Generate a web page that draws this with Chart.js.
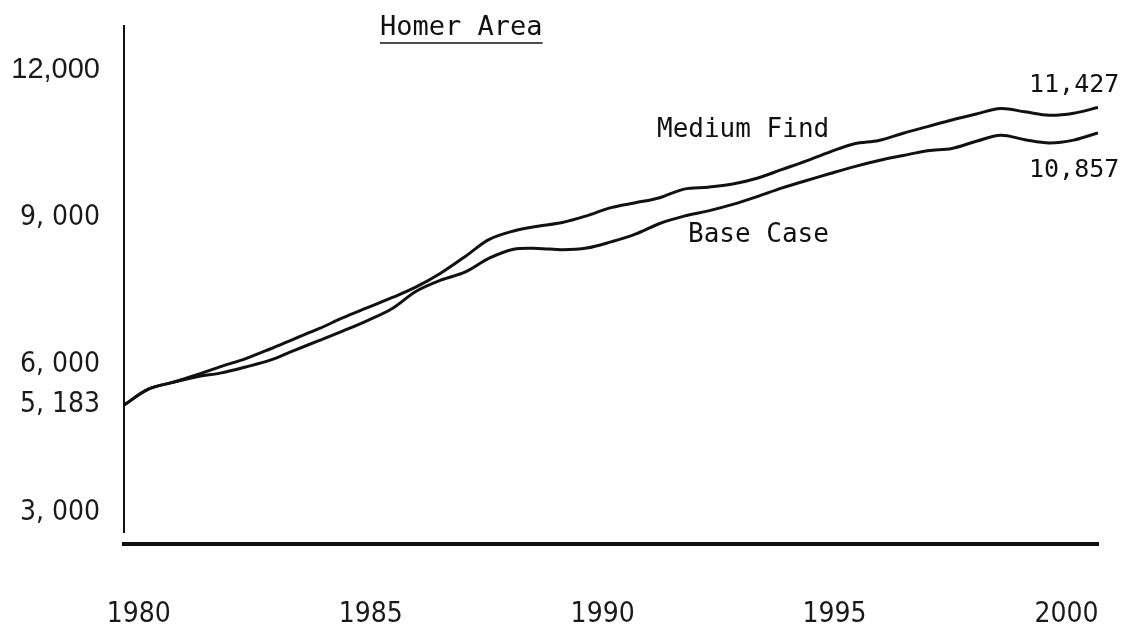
<!DOCTYPE html>
<html>
<head>
<meta charset="utf-8">
<script src="https://cdn.jsdelivr.net/npm/chart.js@4.4.1/dist/chart.umd.min.js"></script>
<style>
  html, body { margin: 0; padding: 0; background: #fff; }
  #wrap { width: 1128px; height: 625px; position: relative; }
</style>
</head>
<body>
<div id="wrap"><canvas id="homerChart"></canvas></div>
<script>
// ===== HOMER AREA CHART =====

// half-year steps, 1980 .. 2000
const years = [
  1980, 1980.5, 1981, 1981.5, 1982, 1982.5, 1983, 1983.5, 1984, 1984.5,
  1985, 1985.5, 1986, 1986.5, 1987, 1987.5, 1988, 1988.5, 1989, 1989.5,
  1990, 1990.5, 1991, 1991.5, 1992, 1992.5, 1993, 1993.5, 1994, 1994.5,
  1995, 1995.5, 1996, 1996.5, 1997, 1997.5, 1998, 1998.5, 1999, 1999.5,
  2000
];

const mediumFind = [
  5183, 5507, 5645, 5800, 5971, 6130, 6325, 6533, 6738, 6962,
  7166, 7369, 7589, 7868, 8204, 8556, 8727, 8825, 8900, 9036,
  9203, 9301, 9405, 9580, 9619, 9684, 9800, 9975, 10150, 10339,
  10504, 10571, 10718, 10852, 10988, 11108, 11220, 11153, 11084, 11125,
  11241
];

const baseCase = [
  5183, 5507, 5645, 5762, 5839, 5959, 6097, 6299, 6494, 6694,
  6905, 7144, 7502, 7726, 7888, 8173, 8355, 8373, 8346, 8379,
  8505, 8662, 8880, 9030, 9136, 9268, 9427, 9600, 9751, 9897,
  10038, 10162, 10264, 10362, 10408, 10553, 10677, 10585, 10520, 10577,
  10724
];

const yTicks = [3000, 5183, 6000, 9000, 12000];
const yTickLabels = ['3, 000', '5, 183', '6, 000', '9, 000', '12,000'];
const yearLabels = [1980, 1985, 1990, 1995, 2000];

const INK = '#111';
const MONO = '"DejaVu Sans Mono", "Liberation Mono", monospace';
const NARROW = '"Liberation Sans Narrow", "DejaVu Sans Condensed", "Liberation Sans", sans-serif';

// typed notes on the chart
const notesPlugin = {
  id: 'notes',
  afterDraw(chart) {
    const ctx = chart.ctx;
    ctx.save();
    ctx.fillStyle = INK;
    ctx.textBaseline = 'middle';
    ctx.textAlign = 'left';

    ctx.font = '27px ' + MONO;
    ctx.fillText('Homer Area', 380, 28);
    const w = ctx.measureText('Homer Area').width;
    ctx.strokeStyle = INK;
    ctx.lineWidth = 1.5;
    ctx.beginPath();
    ctx.moveTo(380, 43);
    ctx.lineTo(380 + w, 43);
    ctx.stroke();

    ctx.font = '26px ' + MONO;
    ctx.fillText('Medium Find', 657, 130);
    ctx.fillText('Base Case', 688, 235);
    ctx.font = '25px ' + MONO;
    ctx.fillText('11,427', 1029, 85);
    ctx.fillText('10,857', 1029, 170);
    ctx.restore();
  }
};

// keep the axes from pushing the plot area around
function noPad(s) {
  s.paddingTop = 0;
  s.paddingBottom = 0;
  s.paddingLeft = 0;
  s.paddingRight = 0;
}

function lineSet(label, values) {
  return {
    label,
    data: years.map((yr, i) => ({ x: yr, y: values[i] })),
    borderColor: INK,
    borderWidth: 3,
    pointRadius: 0,
    tension: 0.35,
    xAxisID: 'x',
    yAxisID: 'y'
  };
}

new Chart(document.getElementById('homerChart'), {
  type: 'line',
  data: {
    datasets: [lineSet('Medium Find', mediumFind), lineSet('Base Case', baseCase)]
  },
  options: {
    responsive: true,
    maintainAspectRatio: false,
    animation: false,
    layout: { padding: { top: 26, right: 30, left: 0, bottom: 0 } },
    plugins: {
      legend: { display: false },
      tooltip: { enabled: false }
    },
    scales: {
      x: {
        type: 'linear',
        min: 1980,
        max: 2000,
        position: 'bottom',
        weight: 0,
        grid: { display: false, drawTicks: false },
        border: { display: false },
        ticks: { display: false },
        afterFit: s => { s.height = 12; noPad(s); }
      },
      x2: {
        type: 'linear',
        min: 1979.68,
        max: 2000.68,
        position: 'bottom',
        weight: 1,
        grid: { display: false, drawTicks: false, tickLength: 0 },
        border: { display: true, color: INK, width: 4 },
        afterBuildTicks: s => { s.ticks = yearLabels.map(v => ({ value: v })); },
        ticks: {
          padding: 54,
          maxRotation: 0,
          autoSkip: false,
          color: '#1a1a1a',
          font: { family: NARROW, size: 28 },
          callback: v => String(v)
        },
        afterFit: s => { s.height = 81; noPad(s); }
      },
      y: {
        type: 'linear',
        min: 2600,
        max: 12900,
        position: 'left',
        grid: { display: false, drawTicks: false, tickLength: 0 },
        border: { display: true, color: INK, width: 2 },
        afterBuildTicks: s => { s.ticks = yTicks.map(v => ({ value: v })); },
        ticks: {
          padding: 24,
          autoSkip: false,
          color: '#1a1a1a',
          font: c => c.tick && c.tick.value === 12000
            ? { family: '"Liberation Sans", Arial, sans-serif', size: 29 }
            : { family: NARROW, size: 28 },
          callback: v => yTickLabels[yTicks.indexOf(v)]
        },
        afterFit: s => { s.width = 124; noPad(s); }
      }
    }
  },
  plugins: [notesPlugin]
});
</script>
</body>
</html>
